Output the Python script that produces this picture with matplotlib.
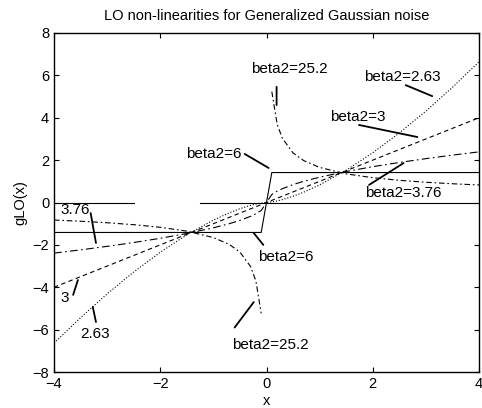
import matplotlib
matplotlib.use("Agg")
import matplotlib.pyplot as plt
import numpy as np

plt.rcParams['font.family'] = ['Liberation Sans', 'DejaVu Sans']

# sample abscissae
x = [-4, -3.5, -3, -2.5, -2, -1.5, -1, -0.7, -0.5, -0.3, -0.2, -0.1, 0,
     0.1, 0.2, 0.3, 0.5, 0.7, 1, 1.5, 2, 2.5, 3, 3.5, 4]

# gLO(x) values
g_263 = [-6.64, -5.435, -4.313, -3.281, -2.348, -1.525, -0.830, -0.486, -0.293, -0.136, -0.074, -0.026, 0,
         0.026, 0.074, 0.136, 0.293, 0.486, 0.830, 1.525, 2.348, 3.281, 4.313, 5.435, 6.64]
g_3 = [-4, -3.5, -3, -2.5, -2, -1.5, -1, -0.7, -0.5, -0.3, -0.2, -0.1, 0,
       0.1, 0.2, 0.3, 0.5, 0.7, 1, 1.5, 2, 2.5, 3, 3.5, 4]
g_376 = [-2.390, -2.236, -2.070, -1.889, -1.690, -1.463, -1.195, -1.000, -0.845, -0.654, -0.534, -0.378, 0,
         0.378, 0.534, 0.654, 0.845, 1.000, 1.195, 1.463, 1.690, 1.889, 2.070, 2.236, 2.390]
g_6 = [-1.414, -1.414, -1.414, -1.414, -1.414, -1.414, -1.414, -1.414, -1.414, -1.414, -1.414, -1.414, 0,
       1.414, 1.414, 1.414, 1.414, 1.414, 1.414, 1.414, 1.414, 1.414, 1.414, 1.414, 1.414]
g_252 = [-0.827, -0.885, -0.955, -1.047, -1.170, -1.351, -1.655, -1.978, -2.340, -3.021, -3.700, -5.233, np.nan,
         5.233, 3.700, 3.021, 2.340, 1.978, 1.655, 1.351, 1.170, 1.047, 0.955, 0.885, 0.827]

zero_left_x = [-4, -2.5]
zero_right_x = [-1.25, 4]

xticks = [-4, -2, 0, 2, 4]
yticks = [-8, -6, -4, -2, 0, 2, 4, 6, 8]

# annotation labels: text, text position, leader line start, leader line end
labels = ['beta2=25.2', 'beta2=2.63', 'beta2=3', 'beta2=6', 'beta2=3.76',
          'beta2=6', 'beta2=25.2', '3.76', '3', '2.63']

fig = plt.figure(figsize=(4.82, 4.08), dpi=100)
ax = fig.add_axes([54/482, 36/408, 425/482, 339/408])

lw = 0.8
ax.plot(zero_left_x, [0, 0], color='k', lw=lw)
ax.plot(zero_right_x, [0, 0], color='k', lw=lw)
ax.plot(x, g_263, color='k', lw=lw, ls=':')
ax.plot(x, g_3, color='k', lw=lw, ls=(0, (4, 3)))
ax.plot(x, g_376, color='k', lw=lw, ls=(0, (7, 3, 1.5, 3)))
ax.plot(x, g_6, color='k', lw=lw, ls='-')
ax.plot(x, g_252, color='k', lw=lw, ls=(0, (5, 2.5, 1.5, 2.5)))

ax.set_xlim(-4, 4)
ax.set_ylim(-8, 8)
ax.set_xticks(xticks)
ax.set_yticks(yticks)
ax.tick_params(direction='in', top=True, right=True, length=3.5, labelsize=10.5)
for s in ax.spines.values():
    s.set_linewidth(1.0)

ax.set_title('LO non-linearities for Generalized Gaussian noise', fontsize=10.5, pad=9)
ax.set_xlabel('x', fontsize=10.5, labelpad=2)
ax.set_ylabel('gLO(x)', fontsize=10.5, labelpad=4)

text_pos = [(0.43, 6.3), (2.56, 5.92), (1.72, 4.03), (-0.99, 2.29), (2.58, 0.45),
            (0.37, -2.57), (0.07, -6.73), (-3.6, -0.35), (-3.79, -4.5), (-3.23, -6.2)]
line_start = [(0.19, 5.46), (2.62, 5.54), (1.74, 3.66), (-0.41, 2.29), (1.93, 0.83),
              (-0.24, -1.44), (-0.6, -5.9), (-3.31, -0.5), (-3.64, -4.36), (-3.21, -5.64)]
line_end = [(0.19, 4.6), (3.12, 5.02), (2.84, 3.09), (0.04, 1.63), (2.58, 1.86),
            (-0.06, -2.0), (-0.24, -4.7), (-3.21, -1.91), (-3.55, -3.66), (-3.27, -4.93)]

ann = dict(arrowstyle='-', lw=1.3, color='k', shrinkA=0, shrinkB=0)
for lab, tp, ls0, le in zip(labels, text_pos, line_start, line_end):
    ax.text(tp[0], tp[1], lab, ha='center', va='center', fontsize=11)
    ax.annotate('', xy=le, xytext=ls0, arrowprops=ann)

fig.savefig('out.png', dpi=100)
